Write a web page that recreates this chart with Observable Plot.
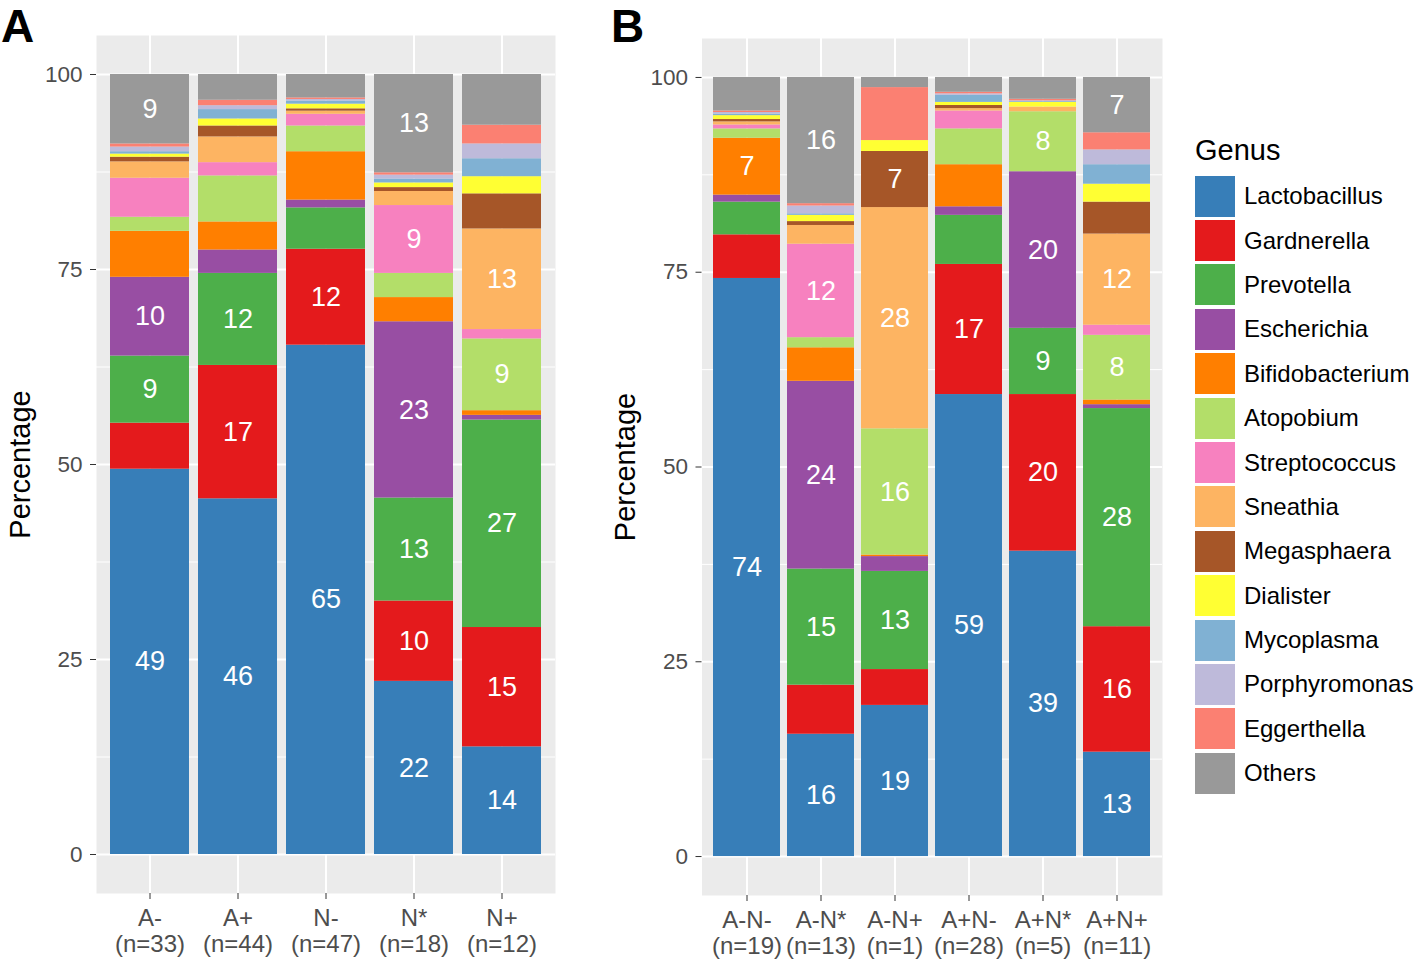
<!DOCTYPE html>
<html>
<head>
<meta charset="utf-8">
<script src="https://cdn.jsdelivr.net/npm/d3@7"></script>
<script src="https://cdn.jsdelivr.net/npm/@observablehq/plot@0.6"></script>
<style>
  html, body { margin: 0; padding: 0; background: #fff; }
  #fig { position: relative; width: 1418px; height: 961px; overflow: hidden; font-family: "Liberation Sans", Arial, Helvetica, sans-serif; }
  .panel { position: absolute; top: 0; }
  .letter { position: absolute; font-weight: bold; font-size: 46px; line-height: 1; color: #000; }
  #legend { position: absolute; left: 1195px; top: 131px; color: #000; }
  #legend .title { font-size: 29px; line-height: 38px; height: 43px; }
  #legend .item { display: flex; align-items: center; height: 44.4px; }
  #legend .sw { width: 40px; height: 41px; margin-right: 9px; }
  #legend .lab { font-size: 24px; }
</style>
</head>
<body>
<div id="fig">
  <div class="letter" style="left:1px; top:3px;">A</div>
  <div class="letter" style="left:611px; top:3px;">B</div>
  <div id="panelA" class="panel" style="left:0px;"></div>
  <div id="panelB" class="panel" style="left:600px;"></div>
  <div id="legend"></div>
</div>
<script>
// ---- Data ----
const genera = ["Lactobacillus","Gardnerella","Prevotella","Escherichia","Bifidobacterium","Atopobium",
  "Streptococcus","Sneathia","Megasphaera","Dialister","Mycoplasma","Porphyromonas","Eggerthella","Others"];
const colors = ["#377EB8","#E41A1C","#4DAF4A","#984EA3","#FF7F00","#B3DE69",
  "#F781BF","#FDB462","#A65628","#FFFF33","#80B1D3","#BEBADA","#FB8072","#999999"];

const groupsA = ["A-","A+","N-","N*","N+"];
const groupLabelsA = ["A-\n(n=33)","A+\n(n=44)","N-\n(n=47)","N*\n(n=18)","N+\n(n=12)"];
// rows follow genera order; columns follow groupsA
const valuesA = [
  [49.4, 45.6, 65.3, 22.2, 13.8],  // Lactobacillus
  [ 5.9, 17.1, 12.3, 10.3, 15.3],  // Gardnerella
  [ 8.6, 11.8,  5.3, 13.2, 26.6],  // Prevotella
  [10.1,  3.0,  1.0, 22.6,  0.6],  // Escherichia
  [ 5.9,  3.6,  6.2,  3.1,  0.6],  // Bifidobacterium
  [ 1.8,  5.9,  3.3,  3.1,  9.2],  // Atopobium
  [ 5.0,  1.7,  1.5,  8.7,  1.2],  // Streptococcus
  [ 2.1,  3.3,  0.4,  1.8, 12.9],  // Sneathia
  [ 0.6,  1.4,  0.3,  0.5,  4.5],  // Megasphaera
  [ 0.4,  0.9,  0.6,  0.6,  2.2],  // Dialister
  [ 0.3,  1.2,  0.4,  0.5,  2.3],  // Mycoplasma
  [ 0.6,  0.5,  0.2,  0.5,  1.9],  // Porphyromonas
  [ 0.4,  0.7,  0.2,  0.3,  2.4],  // Eggerthella
  [ 8.9,  3.3,  3.0, 12.6,  6.5]   // Others
];

const groupsB = ["A-N-","A-N*","A-N+","A+N-","A+N*","A+N+"];
const groupLabelsB = ["A-N-\n(n=19)","A-N*\n(n=13)","A-N+\n(n=1)","A+N-\n(n=28)","A+N*\n(n=5)","A+N+\n(n=11)"];
const valuesB = [
  [74.2, 15.7, 19.4, 59.3, 39.2, 13.4],  // Lactobacillus
  [ 5.6,  6.3,  4.6, 16.7, 20.1, 16.1],  // Gardnerella
  [ 4.2, 14.9, 12.6,  6.3,  8.5, 28.0],  // Prevotella
  [ 0.9, 24.1,  1.9,  1.1, 20.1,  0.5],  // Escherichia
  [ 7.3,  4.3,  0.2,  5.4,  0.0,  0.6],  // Bifidobacterium
  [ 1.2,  1.3, 16.2,  4.6,  7.7,  8.3],  // Atopobium
  [ 0.5, 12.0,  0.0,  2.3,  0.0,  1.3],  // Streptococcus
  [ 0.4,  2.4, 28.4,  0.3,  0.6, 11.7],  // Sneathia
  [ 0.3,  0.5,  7.2,  0.4,  0.0,  4.1],  // Megasphaera
  [ 0.5,  0.8,  1.4,  0.4,  0.6,  2.3],  // Dialister
  [ 0.2,  0.2,  0.0,  0.9,  0.1,  2.5],  // Mycoplasma
  [ 0.2,  1.0,  0.0,  0.2,  0.1,  1.9],  // Porphyromonas
  [ 0.2,  0.3,  6.8,  0.2,  0.2,  2.2],  // Eggerthella
  [ 4.3, 16.2,  1.3,  1.9,  2.8,  7.1]   // Others
];

const yTicks = [0, 25, 50, 75, 100];
const yMinor = [12.5, 37.5, 62.5, 87.5];
const labelMin = 6.85;

// ---- Build ----
const FONT = '"Liberation Sans", Arial, Helvetica, sans-serif';

function makePanel(groups, groupLabels, values, m) {
  const rows = [];
  genera.forEach((g, i) => groups.forEach((grp, j) => rows.push({group: grp, genus: g, value: values[i][j]})));
  const labelOf = new Map(groups.map((g, i) => [g, groupLabels[i]]));
  return Plot.plot({
    width: 600,
    height: 961,
    marginLeft: m.left, marginRight: m.right, marginTop: m.top, marginBottom: m.bottom,
    style: {fontFamily: FONT, fontSize: "22px", background: "transparent", overflow: "visible"},
    x: {type: "band", domain: groups, paddingInner: 0.1, paddingOuter: 0.15, axis: null},
    y: {domain: [-5, 105], axis: null},
    color: {domain: genera, range: colors},
    marks: [
      Plot.frame({fill: "#EBEBEB", stroke: null}),
      Plot.ruleY(yMinor, {stroke: "#fff", strokeWidth: 1}),
      Plot.ruleY(yTicks, {stroke: "#fff", strokeWidth: 2}),
      Plot.ruleX(groups, {x: d => d, stroke: "#fff", strokeWidth: 2}),
      Plot.barY(rows, Plot.stackY({x: "group", y: "value", fill: "genus", z: "genus"})),
      Plot.text(rows, Plot.stackY({
        x: "group", y: "value", z: "genus",
        text: d => d.value >= labelMin ? String(Math.round(d.value)) : null,
        fill: "#fff", fontSize: 27
      })),
      Plot.axisY({ticks: yTicks, tickSize: 6, tickPadding: 8, fontSize: 22.5, color: "#4d4d4d", stroke: "#333", label: null}),
      Plot.axisX({tickSize: 6, tickPadding: 8, fontSize: 24, lineHeight: 1.08, color: "#4d4d4d", stroke: "#333",
        tickFormat: d => labelOf.get(d), label: null}),
      Plot.text(["Percentage"], {frameAnchor: "left", dx: m.titleDx, rotate: -90, textAnchor: "middle",
        text: d => d, fontSize: 29, fill: "#000"})
    ]
  });
}

document.getElementById("panelA").append(
  makePanel(groupsA, groupLabelsA, valuesA, {left: 96, right: 45, top: 35, bottom: 68, titleDx: -76})
);
document.getElementById("panelB").append(
  makePanel(groupsB, groupLabelsB, valuesB, {left: 101.5, right: 38, top: 38, bottom: 66, titleDx: -76})
);

// ---- Legend ----
const legend = document.getElementById("legend");
const t = document.createElement("div");
t.className = "title"; t.textContent = "Genus";
legend.append(t);
genera.forEach((g, i) => {
  const item = document.createElement("div"); item.className = "item";
  const sw = document.createElement("div"); sw.className = "sw"; sw.style.background = colors[i];
  const lab = document.createElement("div"); lab.className = "lab"; lab.textContent = g;
  item.append(sw, lab); legend.append(item);
});
</script>
</body>
</html>
